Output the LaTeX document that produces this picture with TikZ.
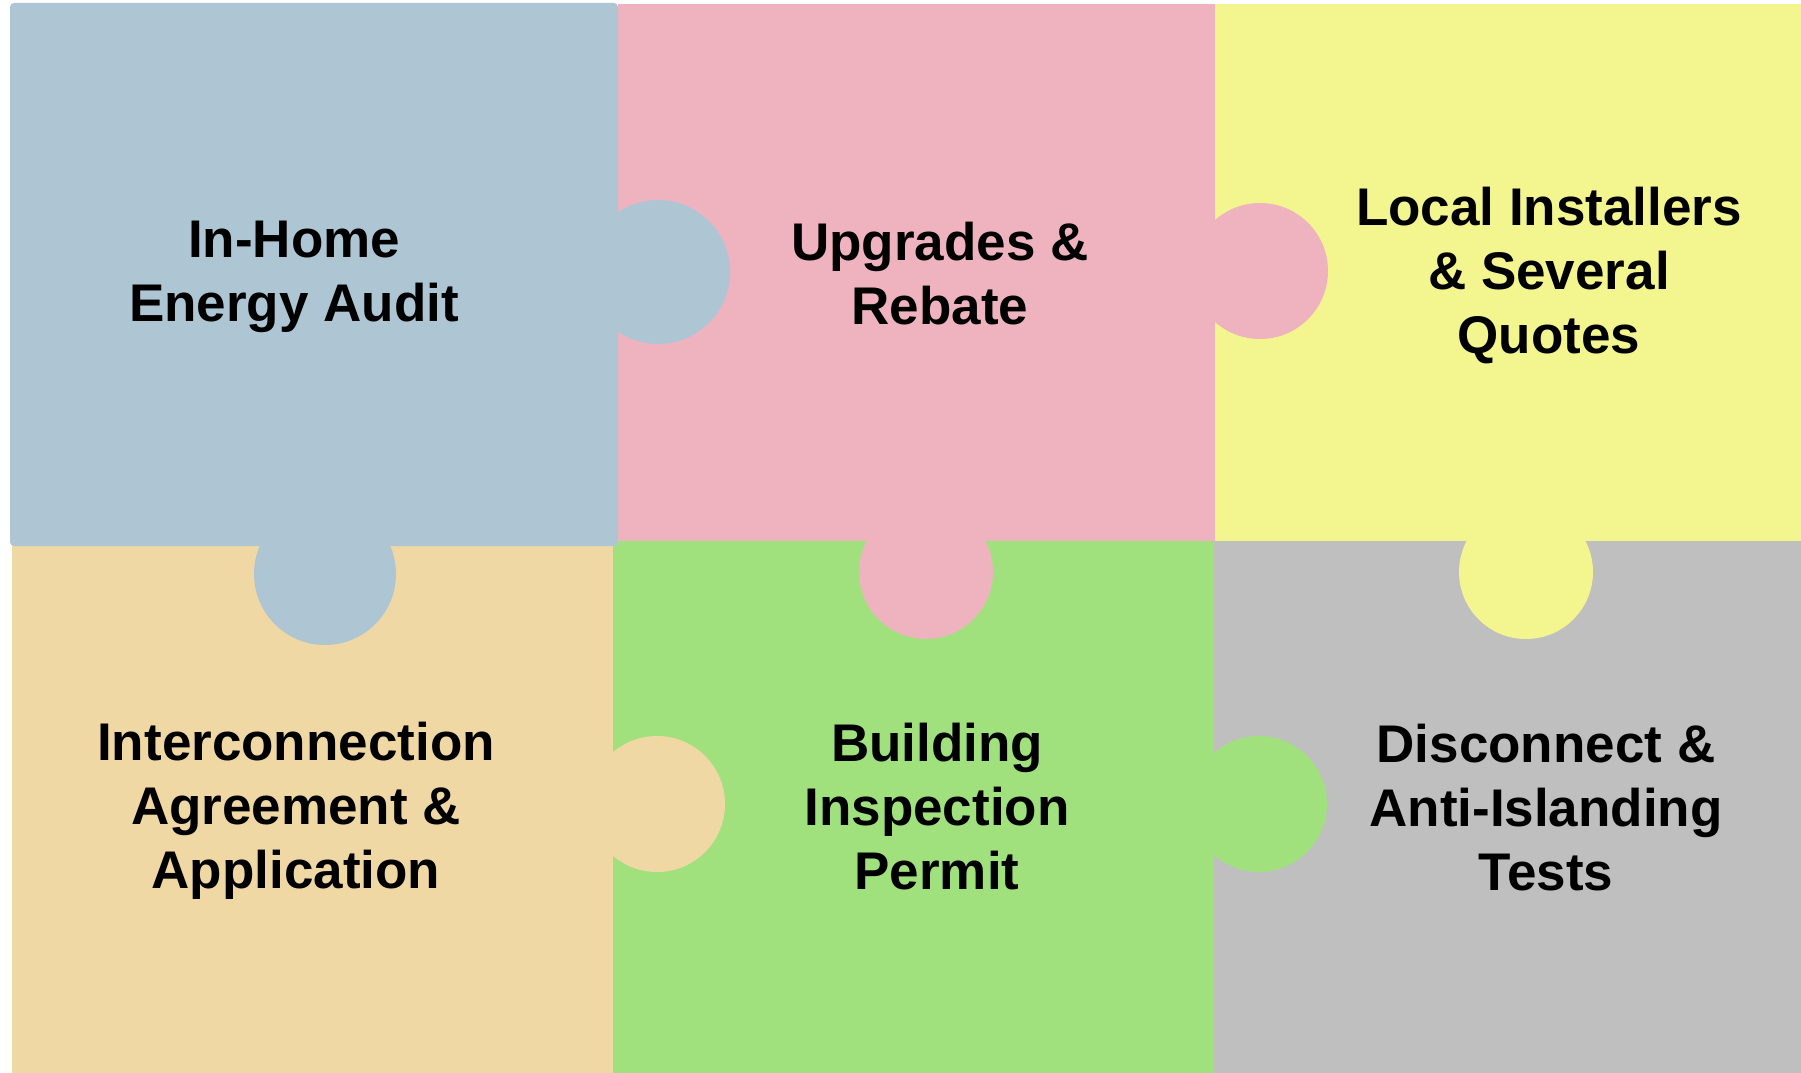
\documentclass[tikz,border=0pt]{standalone}
\usepackage{fontspec}
\setmainfont{Liberation Sans}
\definecolor{pblue}{RGB}{174,198,212}
\definecolor{ppink}{RGB}{238,179,190}
\definecolor{pyellow}{RGB}{243,245,142}
\definecolor{porange}{RGB}{240,216,165}
\definecolor{pgreen}{RGB}{160,225,125}
\definecolor{pgray}{RGB}{191,191,191}
\tikzset{
  lbl/.style={align=center, font=\fontsize{53}{64}\selectfont\bfseries, text=black, inner sep=0pt}
}
\begin{document}
\begin{tikzpicture}[x=1pt,y=-1pt]
\useasboundingbox[fill=white] (0,0) rectangle (1801,1073);
% bottom row
\fill[pgray] (1214,541) rectangle (1801,1073);
\fill[pgreen] (613,541) rectangle (1214,1073);
\fill[pgreen] (1259,804) circle[radius=68pt];
\fill[porange] (12,541) rectangle (613,1073);
\fill[porange] (657,804) circle[radius=68pt];
% top row
\fill[pyellow] (1215,4) rectangle (1801,541);
\fill[pyellow] (1526,572) circle[radius=67pt];
\fill[ppink] (618,4) rectangle (1215,541);
\fill[ppink] (1260,271) circle[radius=68pt];
\fill[ppink] (926,572) circle[radius=67pt];
\fill[pblue, rounded corners=4pt] (10,3) rectangle (618,546);
\fill[pblue] (658,272) circle[radius=72pt];
\fill[pblue] (325,574) circle[radius=71pt];
% labels
\node[lbl] (audit) at (294,277) {In-Home\\Energy Audit};
\node[lbl] (rebate) at (940,274) {Upgrades \&\\Rebate};
\node[lbl] (quotes) at (1549,276) {Local Installers\\\& Several\\Quotes};
\node[lbl] (inter) at (296,811) {Interconnection\\Agreement \&\\Application};
\node[lbl] (permit) at (937,807) {Building\\Inspection\\Permit};
\node[lbl] (tests) at (1546,808) {Disconnect \&\\Anti-Islanding\\Tests};
\end{tikzpicture}
\end{document}
